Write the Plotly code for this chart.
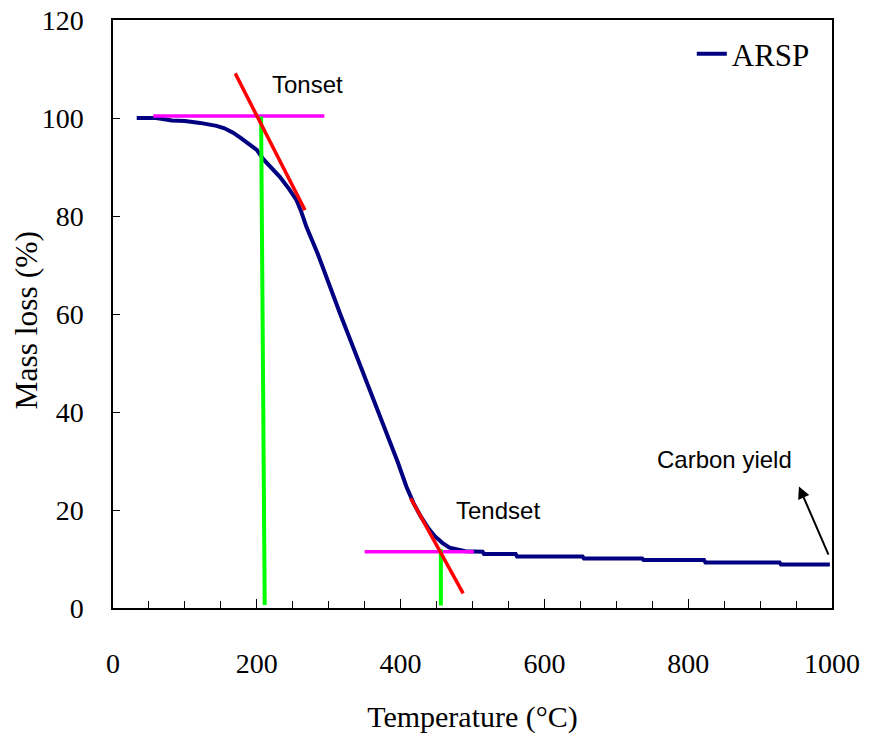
import plotly.graph_objects as go

# TGA curve of ARSP: temperature (°C) vs remaining mass (%)
temperature = [33, 60, 82, 100, 121, 144, 155, 167, 177, 190, 200, 209, 220, 232, 245, 255,
               262, 269, 285, 300, 316, 332, 348, 364, 380, 396, 408, 418, 428, 438, 448,
               458, 468, 478, 490, 514, 516, 560, 562, 653, 655, 736, 738, 822, 824,
               927, 929, 997]
mass = [100, 100, 99.5, 99.4, 99.0, 98.4, 97.9, 97.0, 96.0, 94.7, 93.5, 91.6, 89.9, 88.0, 85.5, 83.3,
        80.8, 77.8, 72.2, 66.2, 60.0, 54.0, 48.0, 41.8, 35.8, 29.8, 24.8, 21.4, 18.7, 16.4, 14.6,
        13.3, 12.3, 11.9, 11.6, 11.5, 11.0, 11.0, 10.5, 10.5, 10.1, 10.1, 9.8, 9.8, 9.3,
        9.3, 8.9, 8.9]

# Onset construction
onset_tangent_x = [170, 267]
onset_tangent_y = [109.1, 81.2]
onset_base_x = [56, 294]
onset_base_y = [100.4, 100.4]
onset_drop_x = [206, 211]
onset_drop_y = [100.3, 0.6]

# Endset construction
endset_tangent_x = [414, 487]
endset_tangent_y = [22.4, 3.0]
endset_base_x = [350, 502]
endset_base_y = [11.5, 11.5]
endset_drop_x = [456, 456]
endset_drop_y = [12.0, 0.5]

# Text labels and arrow
label_onset = ("Tonset", 271, 106.9)
label_endset = ("Tendset", 535, 19.8)
label_yield = ("Carbon yield", 851, 30.4)
yield_arrow_tail = (996, 10.6)
yield_arrow_head = (954, 24.8)

SERIF = "Liberation Serif, Times New Roman, serif"
SANS = "Liberation Sans, Arial, sans-serif"

fig = go.Figure()

fig.add_trace(go.Scatter(
    x=temperature, y=mass, mode="lines", name="ARSP",
    line=dict(color="#000080", width=4),
))

def guide(xs, ys, color, width):
    fig.add_trace(go.Scatter(x=xs, y=ys, mode="lines", showlegend=False,
                             hoverinfo="skip", line=dict(color=color, width=width)))

guide(onset_base_x, onset_base_y, "#ff00ff", 3.5)
guide(onset_drop_x, onset_drop_y, "#00ff00", 4)
guide(onset_tangent_x, onset_tangent_y, "#ff0000", 3.5)
guide(endset_base_x, endset_base_y, "#ff00ff", 3.5)
guide(endset_drop_x, endset_drop_y, "#00ff00", 4)
guide(endset_tangent_x, endset_tangent_y, "#ff0000", 3.5)

for text, x, y in (label_onset, label_endset, label_yield):
    fig.add_annotation(x=x, y=y, xref="x", yref="y", text=text, showarrow=False,
                       font=dict(family=SANS, size=24, color="black"))

fig.add_annotation(x=yield_arrow_head[0], y=yield_arrow_head[1],
                   ax=yield_arrow_tail[0], ay=yield_arrow_tail[1],
                   xref="x", yref="y", axref="x", ayref="y", text="",
                   showarrow=True, arrowhead=2, arrowsize=1.2, arrowwidth=2,
                   arrowcolor="black")

# Vertical axis title
fig.add_annotation(x=-0.12, y=0.49, xref="paper", yref="paper", text="Mass loss (%)",
                   textangle=-90, showarrow=False, xanchor="center", yanchor="middle",
                   font=dict(family=SERIF, size=31.5, color="black"))

axis_common = dict(
    showgrid=False, zeroline=False, showline=True, linecolor="black", linewidth=1.5,
    mirror=True, ticks="inside", tickcolor="black", tickwidth=1.2, automargin=False,
    tickfont=dict(family=SERIF, size=28, color="black"),
)

fig.update_xaxes(
    range=[0, 1000], tickvals=[0, 200, 400, 600, 800, 1000], ticklen=9,
    minor=dict(dtick=50, ticks="inside", ticklen=7, tickcolor="black", tickwidth=1.2),
    ticklabelstandoff=30,
    title=dict(text="Temperature (°C)", font=dict(family=SERIF, size=30, color="black"),
               standoff=28),
    **axis_common,
)
fig.update_yaxes(
    range=[0, 120], tickvals=[0, 20, 40, 60, 80, 100, 120], ticklen=7,
    ticklabelstandoff=22,
    **axis_common,
)

fig.update_layout(
    width=869, height=735,
    margin=dict(l=113, r=37, t=20, b=127),
    paper_bgcolor="white", plot_bgcolor="white",
    showlegend=True,
    legend=dict(x=0.805, y=0.988, xanchor="left", yanchor="top",
                bgcolor="rgba(0,0,0,0)", font=dict(family=SERIF, size=31, color="black")),
)

fig.write_html("out.html")
